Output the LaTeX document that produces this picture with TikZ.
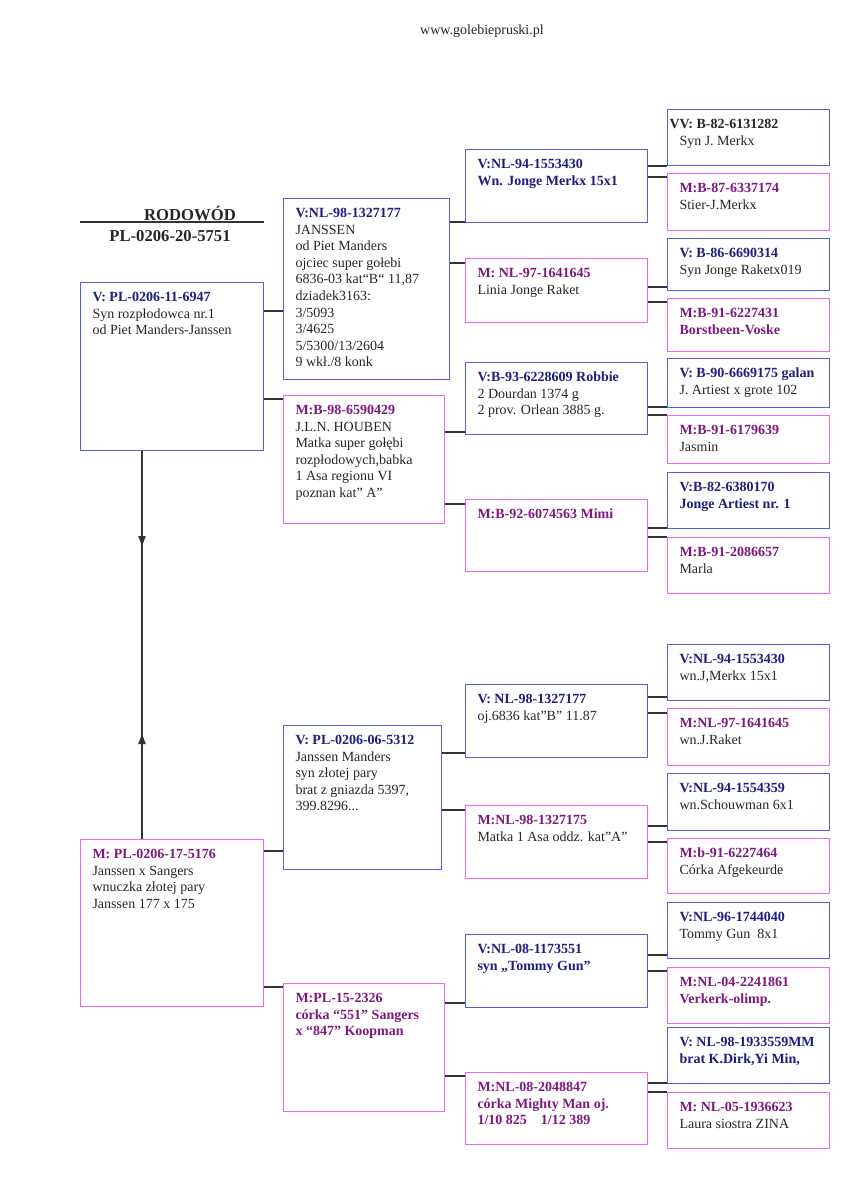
\documentclass[tikz,border=0pt]{standalone}
\usepackage{fontspec}
\setmainfont{Liberation Serif}
\usepackage{xcolor}
\usetikzlibrary{arrows.meta}

\definecolor{vblue}{RGB}{85,95,225}
\definecolor{mpink}{RGB}{240,100,240}
\definecolor{vnavy}{RGB}{30,30,125}
\definecolor{mplum}{RGB}{125,25,125}
\newlength\px \setlength\px{0.75pt}
\newcommand\kartfont{\fontsize{10.5}{12.45}\selectfont}
\newcommand\vh[1]{\textbf{\color{vnavy}#1}}
\newcommand\mh[1]{\textbf{\color{mplum}#1}}

\begin{document}
\begin{tikzpicture}[x=0.75pt, y=-0.75pt, font=\kartfont, text=black!85,
  card/.style n args={3}{draw=#1, line width=0.75pt, anchor=north west, inner sep=0pt,
    execute at begin node={\begin{minipage}[c][#3\px][t]{#2\px}\leftskip=9pt\relax\rule{0pt}{14.25pt}},
    execute at end node={\end{minipage}}},
  vcard/.style 2 args={card={vblue}{#1}{#2}},
  mcard/.style 2 args={card={mpink}{#1}{#2}},
  link/.style={draw=black!80, line width=0.8pt}]
  \useasboundingbox (0,0) rectangle (847,1200);

  \node[anchor=base] (www) at (482,34) {www.golebiepruski.pl};

  % pokolenie 1
  \node[vcard={183}{168}] (v1) at (80,282) {\vh{V: PL-0206-11-6947}\\Syn rozpłodowca nr.1\\od Piet Manders-Janssen};
  \node[mcard={183}{167}] (m1) at (80,839) {\mh{M: PL-0206-17-5176}\\Janssen x Sangers\\wnuczka złotej pary\\Janssen 177 x 175};

  \node[anchor=base, font=\bfseries\fontsize{12.5}{14}\selectfont] (rod) at (190,220) {RODOWÓD};
  \node[anchor=base, font=\bfseries\fontsize{12.5}{14}\selectfont] (nr) at (170,241) {PL-0206-20-5751};
  \draw[link] (v1.west |- 0,222) -- (v1.east |- 0,222);

  % pokolenie 2
  \node[vcard={166}{181}] (v2a) at (283,198) {\vh{V:NL-98-1327177}\\JANSSEN\\od Piet Manders\\ojciec super gołebi\\6836-03 kat“B“ 11,87\\dziadek3163:\\3/5093\\3/4625\\5/5300/13/2604\\9 wkł./8 konk};
  \node[mcard={161}{128}] (m2a) at (283,395) {\mh{M:B-98-6590429}\\J.L.N. HOUBEN\\Matka super gołębi\\rozpłodowych,babka\\1 Asa regionu VI\\poznan kat” A”};
  \node[vcard={158}{144}] (v2b) at (283,725) {\vh{V: PL-0206-06-5312}\\Janssen Manders\\syn złotej pary\\brat z gniazda 5397,\\399.8296...};
  \node[mcard={161}{128}] (m2b) at (283,983) {\mh{M:PL-15-2326\\córka “551” Sangers\\x “847” Koopman}};

  % pokolenie 3
  \node[vcard={182}{73}] (v3a) at (465,149) {\vh{V:NL-94-1553430\\Wn. Jonge Merkx 15x1}};
  \node[mcard={182}{64}] (m3b) at (465,258) {\mh{M: NL-97-1641645}\\Linia Jonge Raket};
  \node[vcard={182}{72}] (v3c) at (465,362) {\vh{V:B-93-6228609 Robbie}\\2 Dourdan 1374 g\\2 prov. Orlean 3885 g.};
  \node[mcard={182}{72}] (m3d) at (465,499) {\mh{M:B-92-6074563 Mimi}};
  \node[vcard={182}{73}] (v3e) at (465,684) {\vh{V: NL-98-1327177}\\oj.6836 kat”B” 11.87};
  \node[mcard={182}{73}] (m3f) at (465,805) {\mh{M:NL-98-1327175}\\Matka 1 Asa oddz. kat”A”};
  \node[vcard={182}{73}] (v3g) at (465,934) {\vh{V:NL-08-1173551\\syn „Tommy Gun”}};
  \node[mcard={182}{72}] (m3h) at (465,1072) {\mh{M:NL-08-2048847\\córka Mighty Man oj.\\1/10 825\quad 1/12 389}};

  % pokolenie 4
  \node[vcard={162}{56}] (v4a) at (667,109) {\hspace*{-7.5pt}\textbf{VV: B-82-6131282}\\Syn J. Merkx};
  \node[mcard={162}{57}] (m4b) at (667,173) {\mh{M:B-87-6337174}\\Stier-J.Merkx};
  \node[vcard={162}{52}] (v4c) at (667,238) {\vh{V: B-86-6690314}\\Syn Jonge Raketx019};
  \node[mcard={162}{53}] (m4d) at (667,298) {\mh{M:B-91-6227431\\Borstbeen-Voske}};
  \node[vcard={162}{49}] (v4e) at (667,358) {\vh{V: B-90-6669175 galan}\\J. Artiest x grote 102};
  \node[mcard={162}{48}] (m4f) at (667,415) {\mh{M:B-91-6179639}\\Jasmin};
  \node[vcard={162}{56}] (v4g) at (667,472) {\vh{V:B-82-6380170\\Jonge Artiest nr. 1}};
  \node[mcard={162}{56}] (m4h) at (667,537) {\mh{M:B-91-2086657}\\Marla};
  \node[vcard={162}{56}] (v4i) at (667,644) {\vh{V:NL-94-1553430}\\wn.J,Merkx 15x1};
  \node[mcard={162}{57}] (m4j) at (667,708) {\mh{M:NL-97-1641645}\\wn.J.Raket};
  \node[vcard={162}{57}] (v4k) at (667,773) {\vh{V:NL-94-1554359}\\wn.Schouwman 6x1};
  \node[mcard={162}{55}] (m4l) at (667,838) {\mh{M:b-91-6227464}\\Córka Afgekeurde};
  \node[vcard={162}{56}] (v4m) at (667,902) {\vh{V:NL-96-1744040}\\Tommy Gun\ \ 8x1};
  \node[mcard={162}{56}] (m4n) at (667,967) {\mh{M:NL-04-2241861\\Verkerk-olimp.}};
  \node[vcard={162}{56}] (v4o) at (667,1027) {\vh{V: NL-98-1933559MM\\brat K.Dirk,Yi Min,}};
  \node[mcard={162}{56}] (m4p) at (667,1092) {\mh{M: NL-05-1936623}\\Laura siostra ZINA};

  % linie rodzic -> dziecko
  \foreach \p/\c/\y in {v1/v2a/311, v1/m2a/399, m1/v2b/851, m1/m2b/987,
      v2a/v3a/222, v2a/m3b/263, m2a/v3c/432, m2a/m3d/504,
      v2b/v3e/753, v2b/m3f/810, m2b/v3g/1003, m2b/m3h/1076,
      v3a/v4a/166, v3a/m4b/177, m3b/v4c/287, m3b/m4d/302,
      v3c/v4e/407, v3c/m4f/415, m3d/v4g/528, m3d/m4h/537,
      v3e/v4i/697, v3e/m4j/713, m3f/v4k/826, m3f/m4l/842,
      v3g/v4m/955, v3g/m4n/971, m3h/v4o/1083, m3h/m4p/1092}
    \draw[link] (\p.east |- 0,\y) -- (\c.west |- 0,\y);

  % para
  \coordinate (axis) at (142,0);
  \draw[link] (axis |- v1.south) -- (axis |- m1.north);
  \draw[link,-{Triangle[length=7.5pt,width=5.5pt]}] (axis |- v1.south) -- (axis |- 0,546);
  \draw[link,-{Triangle[length=7.5pt,width=5.5pt]}] (axis |- m1.north) -- (axis |- 0,734);
\end{tikzpicture}
\end{document}
